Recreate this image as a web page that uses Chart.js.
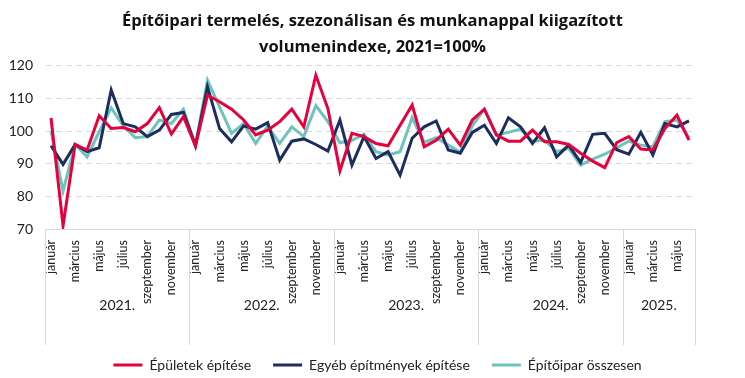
<!DOCTYPE html>
<html><head><meta charset="utf-8">
<script src="https://cdn.jsdelivr.net/npm/chart.js@4.4.1/dist/chart.umd.min.js"></script>
<style>html,body{margin:0;padding:0;background:#fff}#wrap{width:745px;height:378px;position:relative}</style>
</head><body><div id="wrap"><canvas id="c" width="745" height="378"></canvas></div>
<script>
const monthNames = ['január','február','március','április','május','június','július','augusztus','szeptember','október','november','december'];
const years = ['2021.','2022.','2023.','2024.','2025.'];
const monthsPerYear = [12,12,12,12,6];
const yTicks = [70,80,90,100,110,120];
const titleLines = ['Építőipari termelés, szezonálisan és munkanappal kiigazított','volumenindexe, 2021=100%'];
const seriesNames = ['Épületek építése','Egyéb építmények építése','Építőipar összesen'];

const epuletek = [
  104, 71, 95.9, 94.2, 104.7, 100.8, 101.1, 99.8, 102.3, 107.2, 99.1, 104.4,
  95.5, 111, 109, 106.7, 103.4, 98.8, 100.3, 102.9, 106.7, 101.3, 117.1, 106.9,
  87.8, 99.3, 98.3, 96.2, 95.5, 101.8, 108, 95.2, 97.2, 100.6, 95.7, 103.4,
  106.7, 98.8, 96.9, 96.9, 100.3, 96.7, 96.7, 95.9, 93.2, 90.8, 88.8, 96.5,
  98.3, 94.5, 94.2, 100.8, 104.9, 97.2
];
const egyeb = [
  95.5, 89.8, 95.9, 93.7, 94.9, 112.6, 102.3, 101.3, 98.3, 100.3, 105.1, 105.7,
  95.5, 113.6, 100.8, 96.7, 101.6, 100.6, 102.6, 91.1, 96.9, 97.6, 95.9, 93.9,
  103.4, 89.6, 98.3, 91.6, 93.7, 86.5, 97.8, 101.3, 103.1, 94.2, 93.2, 99.6,
  101.8, 96.2, 104.1, 101.3, 96.2, 101, 92.1, 95.7, 90.4, 99, 99.3, 94.3,
  92.9, 99.6, 92.7, 102.3, 101.3, 103.1
];
const osszesen = [
  100, 81.6, 95.9, 92.1, 99.8, 107.1, 101.6, 98, 98.3, 103.4, 102.3, 106.7,
  95.7, 115.6, 107.4, 99.3, 102.3, 96.2, 101.6, 96.2, 101.3, 98.3, 107.8, 102.9,
  96.4, 97.2, 99, 93.7, 92.7, 93.7, 104.1, 96.5, 98, 95.7, 93.5, 101.6,
  106.7, 98.8, 99.6, 100.6, 96.9, 97.2, 93.7, 94.7, 89.6, 91.4, 92.9, 94.9,
  96.9, 95.7, 95.2, 102.9, 103.4, 98
];

const labels = [];
monthsPerYear.forEach((n)=>{ for(let m=0;m<n;m++) labels.push(monthNames[m]); });

const FONT = 'Lato, "Open Sans", sans-serif';
const gridColor = '#d9d9d9';
const CHART_BOTTOM = 229;

const yearPlugin = {
  id:'yearPlugin',
  afterLayout(chart){
    const L = chart.legend;
    if (L) { L.left += 30; L.right += 30; L.top += 4; L.bottom += 4; }
    const T = chart.titleBlock;
    if (T) { T.left += 25; T.right += 25; }
  },
  afterDraw(chart){
    const xs = chart.scales.x, ca = chart.chartArea, ctx = chart.ctx;
    const step = xs.getPixelForValue(1) - xs.getPixelForValue(0);
    const x0 = xs.getPixelForValue(0) - step/2;
    ctx.save();
    ctx.strokeStyle = gridColor; ctx.lineWidth = 1;
    const bottom = ca.bottom + 116;
    let start = 0;
    const edges = [];
    monthsPerYear.forEach((n)=>{ edges.push(start); start += n; });
    edges.push(start);
    edges.forEach(i=>{
      const x = Math.round(x0 + step*i) + 0.5;
      ctx.beginPath(); ctx.moveTo(x, ca.bottom); ctx.lineTo(x, bottom); ctx.stroke();
    });
    ctx.fillStyle = '#222';
    ctx.font = '14px ' + FONT;
    ctx.textAlign = 'center'; ctx.textBaseline = 'middle';
    years.forEach((y,k)=>{
      const a = x0 + step*edges[k];
      const b = x0 + step*edges[k+1];
      ctx.fillText(y, (a+b)/2, ca.bottom + 76);
    });
    ctx.restore();
  }
};

new Chart(document.getElementById('c'), {
  type:'line',
  data:{ labels, datasets:[
    {label:seriesNames[0], data:epuletek, borderColor:'#e6003c', backgroundColor:'#e6003c', borderWidth:3, pointRadius:0, tension:0},
    {label:seriesNames[1], data:egyeb, borderColor:'#1c2d5e', backgroundColor:'#1c2d5e', borderWidth:3, pointRadius:0, tension:0},
    {label:seriesNames[2], data:osszesen, borderColor:'#6cc4bc', backgroundColor:'#6cc4bc', borderWidth:3, pointRadius:0, tension:0}
  ]},
  options:{
    responsive:false, animation:false,
    layout:{padding:{left:0,right:50,top:0,bottom:0}},
    plugins:{
      title:{display:true, text:titleLines, color:'#111', font:{family:'"Open Sans", Lato, sans-serif', size:16.5, weight:'bold', lineHeight:1.57}, padding:{top:8,bottom:6}},
      legend:{position:'bottom', labels:{usePointStyle:true, pointStyle:'line', pointStyleWidth:29, boxHeight:10, color:'#222', font:{family:FONT,size:14}, padding:22}},
      tooltip:{enabled:false}
    },
    scales:{
      x:{
        offset:true,
        grid:{display:false},
        border:{display:true, color:gridColor},
        ticks:{autoSkip:false, maxRotation:90, minRotation:90, color:'#222', font:{family:FONT,size:12.5}, padding:3,
          callback:function(v,i){ return (i%2===0) ? this.getLabelForValue(v) : null; }},
        afterFit:s=>{ const lh = s.chart.legend ? s.chart.legend.height : 0; s.height = Math.max(20, 378 - CHART_BOTTOM - lh); }
      },
      y:{
        min:70, max:120,
        afterBuildTicks:s=>{ s.ticks = yTicks.map(v=>({value:v})); },
        grid:{color:gridColor, drawTicks:false, lineWidth:1},
        border:{display:true, color:'rgba(0,0,0,0)', dash:[6,4]},
        ticks:{color:'#222', font:{family:FONT,size:14}, padding:12},
        afterFit:s=>{ s.width = 45; }
      }
    }
  },
  plugins:[yearPlugin]
});
</script></body></html>
